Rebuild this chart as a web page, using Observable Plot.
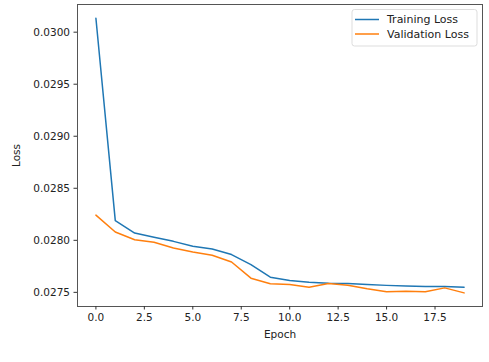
<!DOCTYPE html>
<html>
<head>
<meta charset="utf-8">
<script src="https://cdn.jsdelivr.net/npm/d3@7"></script>
<script src="https://cdn.jsdelivr.net/npm/@observablehq/plot@0.6"></script>
<style>
  html, body { margin: 0; padding: 0; background: #fff; }
  #chart { width: 489px; height: 362px; }
</style>
</head>
<body>
<div id="chart"></div>
<script>
const epochs = [0,1,2,3,4,5,6,7,8,9,10,11,12,13,14,15,16,17,18,19];
const trainingLoss = [0.030134,0.028189,0.02807,0.02803,0.02799,0.027943,0.027917,0.027863,0.027767,0.027646,
                      0.027614,0.027598,0.027588,0.027585,0.027576,0.027567,0.02756,0.027557,0.027557,0.02755];
const validationLoss = [0.028242,0.02808,0.028006,0.027981,0.027926,0.027888,0.027856,0.027792,0.027636,0.027582,
                        0.027576,0.02755,0.027585,0.027569,0.027534,0.027505,0.027511,0.027505,0.027543,0.027495];
const seriesNames = ["Training Loss", "Validation Loss"];
const seriesColors = ["#1f77b4", "#ff7f0e"];
const xTicks = [0,2.5,5,7.5,10,12.5,15,17.5];
const yTicks = [0.0275,0.0280,0.0285,0.0290,0.0295,0.0300];

const rows = [];
epochs.forEach((e,i) => {
  rows.push({epoch: e, loss: trainingLoss[i], series: seriesNames[0]});
  rows.push({epoch: e, loss: validationLoss[i], series: seriesNames[1]});
});

const font = "DejaVu Sans, sans-serif";
const plot = Plot.plot({
  width: 489,
  height: 362,
  marginLeft: 77,
  marginRight: 7,
  marginTop: 4,
  marginBottom: 56,
  style: {fontFamily: font, fontSize: "10.5px", color: "#333", background: "#fff"},
  x: {domain: [-0.95, 19.95]},
  y: {domain: [0.027364, 0.030266]},
  color: {domain: seriesNames, range: seriesColors},
  marks: [
    Plot.line(rows, {x: "epoch", y: "loss", stroke: "series", strokeWidth: 1.5}),
    Plot.frame({stroke: "#555", strokeWidth: 1}),
    Plot.axisX({ticks: xTicks, tickFormat: d => d.toFixed(1), tickSize: 3.5, tickPadding: 4,
                label: "Epoch", labelAnchor: "center", labelArrow: "none", labelOffset: 31, fill: "#222"}),
    Plot.axisY({ticks: yTicks, tickFormat: d => d.toFixed(4), tickSize: 3.5, tickPadding: 4,
                label: "Loss", labelAnchor: "center", labelArrow: "none", labelOffset: 65, fill: "#222"})
  ]
});
document.getElementById("chart").appendChild(plot);

// legend
const svg = d3.select(plot);
const lg = svg.append("g").attr("font-family", font).attr("font-size", "11px").attr("text-anchor", "start");
lg.append("rect").attr("x", 352).attr("y", 9.5).attr("width", 125).attr("height", 36.5)
  .attr("rx", 2.5).attr("fill", "#fff").attr("fill-opacity", 0.8).attr("stroke", "#ddd");
seriesNames.forEach((name, i) => {
  const y = 19.5 + i * 14.5;
  lg.append("line").attr("x1", 355).attr("x2", 379).attr("y1", y).attr("y2", y)
    .attr("stroke", seriesColors[i]).attr("stroke-width", 1.5);
  lg.append("text").attr("x", 387).attr("y", y).attr("dy", "0.35em").attr("fill", "#222")
    .attr("text-anchor", "start").text(name);
});
</script>
</body>
</html>
